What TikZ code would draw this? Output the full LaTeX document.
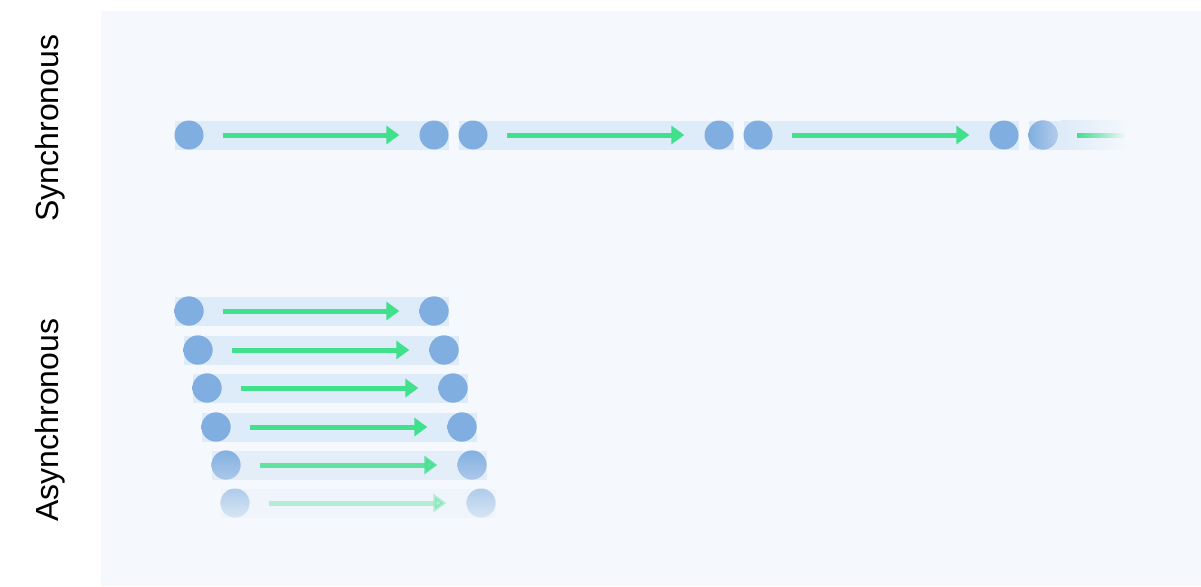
\documentclass[tikz,border=0pt]{standalone}
\usepackage{fontspec}
\setmainfont{Liberation Sans}
\usetikzlibrary{arrows.meta,fadings,calc}
\definecolor{panel}{HTML}{F5F8FC}
\definecolor{lanec}{HTML}{DEEBF9}
\definecolor{dotblue}{HTML}{80AEE0}
\definecolor{dotlight}{HTML}{B2CCEB}
\definecolor{flowc}{HTML}{40E08C}
\tikzstyle{ball} = [circle, minimum size=29pt, inner sep=0pt, fill=dotblue]
\tikzstyle{lane} = [fill=lanec]
\tikzstyle{flowline} = [draw=flowc, line width=5pt, -{Triangle[length=13pt,width=18pt]}, shorten <=19pt, shorten >=20pt]
\tikzstyle{label} = [rotate=90, font=\fontsize{32}{38}\selectfont]

\begin{document}
\begin{tikzpicture}[x=1pt,y=-1pt]
\useasboundingbox (0,0) rectangle (1201,586);
\fill[panel] (101,11) rectangle (1201,586);

\node[label] (sync) at (50,128) {Synchronous};
\node[label] (async) at (50,420) {Asynchronous};

% synchronous: one request after the other
\foreach \i/\xa/\xb in {1/189/434, 2/473/719, 3/758/1004} {
    \fill[lane] (\xa-14.5,120.5) rectangle (\xb+14.5,149.5);
    \node[ball] (s\i-a) at (\xa,135) {};
    \node[ball] (s\i-b) at (\xb,135) {};
    \draw[flowline] (s\i-a) -- (s\i-b);
}
\fill[lane] (1028.5,120.5) rectangle (1062,149.5);
\fill[lane, path fading=east] (1061,120.5) rectangle (1125,149.5);
\node[ball, left color=dotblue, right color=dotlight] (s4-a) at (1043,135) {};
\coordinate (s4-end) at (1125,135);
\fill[flowc, path fading=east] ($(s4-a.east)+(19,-2.5)$) rectangle ($(s4-end)+(0,2.5)$);

% asynchronous: all requests at once
\foreach \r/\y/\xa/\xb/\lo/\op/\lop in {1/311/189/434/dotblue/1/1, 2/350/198/444/dotblue/1/1,
    3/388/207/453/dotblue/1/1, 4/427/216/462/dotblue/1/1, 5/465/226/472/dotlight/.8/.75,
    6/503/235/481/panel/.35/.2} {
    \fill[lane, opacity=\lop] (\xa-14.5,\y-14.5) rectangle (\xb+14.5,\y+14.5);
    \node[ball, top color=dotblue, bottom color=\lo, opacity=\op] (a\r-a) at (\xa,\y) {};
    \node[ball, top color=dotblue, bottom color=\lo, opacity=\op] (a\r-b) at (\xb,\y) {};
    \draw[flowline, opacity=\op] (a\r-a) -- (a\r-b);
}
\end{tikzpicture}
\end{document}
